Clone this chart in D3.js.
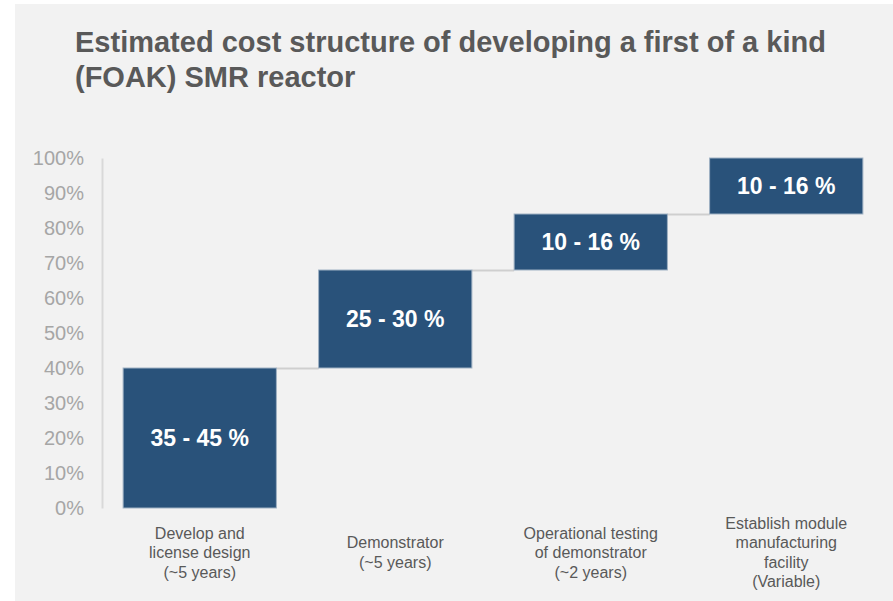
<!DOCTYPE html>
<html>
<head>
<meta charset="utf-8">
<script src="https://cdn.jsdelivr.net/npm/d3@7"></script>
<style>
  html, body { margin: 0; padding: 0; background: #ffffff; }
  svg { display: block; font-family: "Liberation Sans", Arial, sans-serif; }
</style>
</head>
<body>
<svg id="chart" width="893" height="601"></svg>
<script>
// Phases of the FOAK SMR programme (each label line is a separate entry)
const categories = [
  ["Develop and", "license design", "(~5 years)"],
  ["Demonstrator", "(~5 years)"],
  ["Operational testing", "of demonstrator", "(~2 years)"],
  ["Establish module", "manufacturing", "facility", "(Variable)"]
];
// Share of total cost contributed by each phase (percent)
const shares = [40, 28, 16, 16];
// Range text printed on each step
const rangeLabels = ["35 - 45 %", "25 - 30 %", "10 - 16 %", "10 - 16 %"];
// Y axis ticks
const yTicks = [0, 10, 20, 30, 40, 50, 60, 70, 80, 90, 100];
const titleLines = [
  "Estimated cost structure of developing a first of a kind",
  "(FOAK) SMR reactor"
];

const svg = d3.select("#chart");
const W = 893, H = 601;

// Panel background
svg.append("rect")
  .attr("x", 15).attr("y", 4)
  .attr("width", W - 15).attr("height", H - 4)
  .attr("fill", "#f2f2f2");

// Title
svg.append("text")
  .attr("x", 75).attr("y", 52)
  .attr("font-size", 29).attr("font-weight", "bold")
  .attr("fill", "#595959")
  .selectAll("tspan").data(titleLines).join("tspan")
  .attr("x", 75)
  .attr("dy", (d, i) => i === 0 ? 0 : 35)
  .text(d => d);

// Cumulative steps of the waterfall
let acc = 0;
const steps = shares.map((v, i) => {
  const s = { i, start: acc, end: acc + v, label: rangeLabels[i], cat: categories[i] };
  acc += v;
  return s;
});

const y = d3.scaleLinear().domain([0, 100]).range([508, 158]);
const x = d3.scaleBand()
  .domain(d3.range(categories.length))
  .range([102, 884])
  .paddingInner(0.216)
  .paddingOuter(0.108);

// Y axis
const yAxis = d3.axisLeft(y)
  .tickValues(yTicks)
  .tickFormat(d => d + "%")
  .tickSize(0)
  .tickPadding(18);

const gy = svg.append("g").attr("transform", "translate(102,0)").call(yAxis);
gy.select(".domain").attr("stroke", "#d9d9d9").attr("stroke-width", 2);
gy.selectAll(".tick text")
  .attr("fill", "#a6a6a6")
  .attr("font-size", 20)
  .attr("font-family", "Liberation Sans, Arial, sans-serif");

// Connector lines between consecutive steps
svg.append("g")
  .selectAll("line")
  .data(steps.slice(0, -1))
  .join("line")
  .attr("x1", d => x(d.i) + x.bandwidth())
  .attr("x2", d => x(d.i + 1))
  .attr("y1", d => y(d.end) + 0.5)
  .attr("y2", d => y(d.end) + 0.5)
  .attr("stroke", "#cfcfcf")
  .attr("stroke-width", 2);

// Bars
svg.append("g")
  .selectAll("rect")
  .data(steps)
  .join("rect")
  .attr("x", d => x(d.i))
  .attr("y", d => y(d.end))
  .attr("width", x.bandwidth())
  .attr("height", d => y(d.start) - y(d.end))
  .attr("fill", "#29527a")
  .attr("stroke", "#9fb1c3")
  .attr("stroke-width", 1);

// Range labels inside the bars
svg.append("g")
  .selectAll("text")
  .data(steps)
  .join("text")
  .attr("x", d => x(d.i) + x.bandwidth() / 2)
  .attr("y", d => (y(d.start) + y(d.end)) / 2 + 8)
  .attr("text-anchor", "middle")
  .attr("font-size", 23)
  .attr("font-weight", "bold")
  .attr("fill", "#ffffff")
  .text(d => d.label);

// Category labels, centred vertically as a block under each bar
const lineH = 19.5, blockCenter = 552.5;
const catG = svg.append("g")
  .selectAll("text")
  .data(steps)
  .join("text")
  .attr("text-anchor", "middle")
  .attr("font-size", 16)
  .attr("fill", "#595959");

catG.selectAll("tspan")
  .data(d => d.cat.map((t, k) => ({ t, k, n: d.cat.length, cx: x(d.i) + x.bandwidth() / 2 })))
  .join("tspan")
  .attr("x", d => d.cx)
  .attr("y", d => blockCenter + (d.k - (d.n - 1) / 2) * lineH + 5.5)
  .text(d => d.t);
</script>
</body>
</html>
